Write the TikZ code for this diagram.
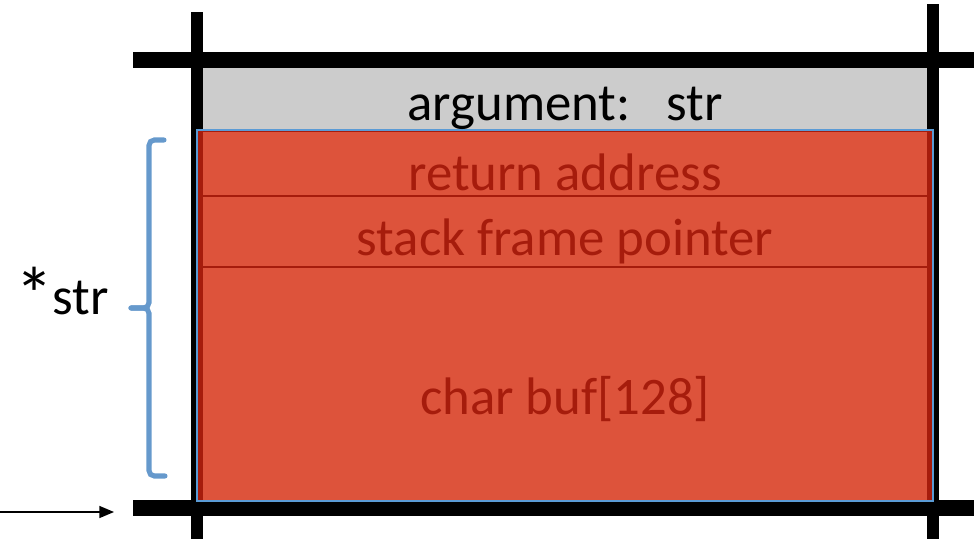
\documentclass[tikz,border=0pt]{standalone}
\usepackage{fontspec}
\usepackage{graphicx}
\setmainfont{Carlito}
\usetikzlibrary{arrows.meta}
\definecolor{barred}{HTML}{DD533B}
\definecolor{darkred}{HTML}{A61C0C}
\definecolor{graybox}{HTML}{CCCCCC}
\definecolor{braceblue}{HTML}{6699CC}
\definecolor{outlineblue}{HTML}{5B9BD5}
\begin{document}
\begin{tikzpicture}[x=0.75pt,y=-0.75pt,
  bigtext/.style={font=\fontsize{39.6}{44}\selectfont, inner sep=0pt, anchor=base},
  redtext/.style={bigtext, text=darkred},
  hbar/.style={fill=black, draw=none},
  bracestyle/.style={draw=braceblue, line width=3.8pt, rounded corners=4pt, line cap=round}]
\useasboundingbox (0,0) rectangle (974,541);
% black frame bars (behind)
\fill[hbar] (191,12) rectangle (203,539);
\fill[hbar] (927,4) rectangle (939,539);
\fill[hbar] (133,52) rectangle (974,68);
\fill[hbar] (133,500) rectangle (974,516);
% argument slot
\fill[graybox] (203,68) rectangle (927,130);
% red frame
\fill[darkred] (197,130) rectangle (933,501);
\fill[barred] (203,132) rectangle (927,501);
\draw[darkred, line width=1.5pt] (203,196) -- (927,196);
\draw[darkred, line width=1.5pt] (203,267) -- (927,267);
\draw[outlineblue, line width=1pt] (197,130) rectangle (933,501);
% labels
\node[bigtext] (arg) at (565,121) {argument:~~~str};
\node[redtext] (ret) at (565,191) {return address};
\node[redtext] (sfp) at (565,256) {stack frame pointer};
\node[redtext] (buf) at (565,414) {char buf[128]};
\node[bigtext] (ptr) at (62,315) {\raisebox{-0.12em}{\scalebox{1.45}{*}}\kern-0.02em str};
% brace
\coordinate (bt) at (164,140);
\coordinate (bm) at (131,308);
\coordinate (bb) at (165,476);
\draw[bracestyle] (bt) -- (149,140) -- (149,308) -- (bm);
\draw[bracestyle] (bm) -- (149,308) -- (149,476) -- (bb);
% arrow
\coordinate (as) at (0,512);
\coordinate (ae) at (114,512);
\draw[line width=1.1pt, -{Triangle[length=11pt,width=9pt]}] (as) -- (ae);
\end{tikzpicture}
\end{document}
